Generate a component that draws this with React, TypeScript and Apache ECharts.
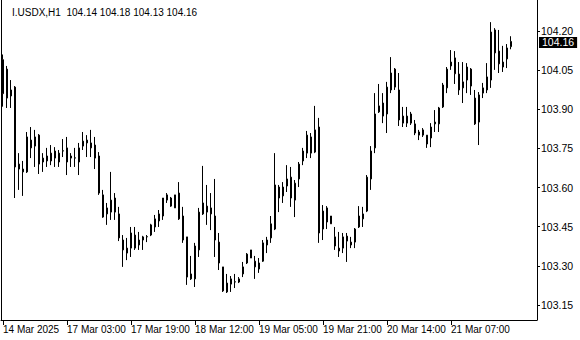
import React, { useEffect, useRef } from "react";
import * as echarts from "echarts";

const symbolName = "I.USDX,H1";
const tickLabels = [
  "14 Mar 2025",
  "17 Mar 03:00",
  "17 Mar 19:00",
  "18 Mar 12:00",
  "19 Mar 05:00",
  "19 Mar 21:00",
  "20 Mar 14:00",
  "21 Mar 07:00",
];
const yTicks = [103.15, 103.3, 103.45, 103.6, 103.75, 103.9, 104.05, 104.2];

const opens = [
  104.09, 104.054, 103.951, 103.985, 103.69, 103.66, 103.66, 103.782, 103.759, 103.801,
  103.698, 103.702, 103.732, 103.713, 103.698, 103.74, 103.752, 103.713, 103.713, 103.698,
  103.759, 103.771, 103.771, 103.763, 103.721, 103.572, 103.499, 103.506, 103.56, 103.499,
  103.399, 103.368, 103.368, 103.418, 103.38, 103.411, 103.411, 103.418, 103.449, 103.472,
  103.491, 103.552, 103.56, 103.522, 103.579, 103.491, 103.411, 103.25, 103.25, 103.361,
  103.499, 103.529, 103.522, 103.491, 103.391, 103.296, 103.2, 103.25, 103.238, 103.25,
  103.269, 103.311, 103.361, 103.318, 103.288, 103.318, 103.38, 103.407, 103.441, 103.602,
  103.568, 103.606, 103.64, 103.552, 103.633, 103.702, 103.732, 103.794, 103.736, 103.832,
  103.441, 103.522, 103.491, 103.411, 103.368, 103.368, 103.414, 103.391, 103.391, 103.449,
  103.48, 103.51, 103.633, 103.752, 103.89, 103.924, 103.882, 103.974, 104.054, 103.974,
  103.874, 103.847, 103.882, 103.844, 103.801, 103.821, 103.767, 103.79, 103.844, 103.844,
  103.909, 103.982, 104.066, 104.097, 104.035, 103.982, 104.012, 104.054, 103.943, 103.851,
  103.962, 103.974, 104.012, 104.204, 104.123, 104.062, 104.093, 104.14,
];
const highs = [
  104.11, 104.066, 104.012, 103.989, 103.732, 103.702, 103.813, 103.832, 103.821, 103.805,
  103.732, 103.752, 103.763, 103.755, 103.744, 103.786, 103.794, 103.732, 103.752, 103.771,
  103.813, 103.801, 103.821, 103.794, 103.736, 103.591, 103.541, 103.66, 103.579, 103.526,
  103.418, 103.407, 103.449, 103.449, 103.43, 103.415, 103.418, 103.461, 103.495, 103.514,
  103.56, 103.579, 103.564, 103.572, 103.621, 103.526, 103.411, 103.338, 103.388, 103.522,
  103.683, 103.61, 103.579, 103.633, 103.426, 103.296, 103.269, 103.261, 103.269, 103.257,
  103.315, 103.349, 103.361, 103.338, 103.33, 103.399, 103.411, 103.491, 103.732, 103.61,
  103.621, 103.686, 103.679, 103.629, 103.698, 103.752, 103.817, 103.809, 103.913, 103.867,
  103.533, 103.529, 103.491, 103.449, 103.43, 103.426, 103.426, 103.411, 103.445, 103.529,
  103.526, 103.648, 103.759, 103.962, 103.997, 103.962, 104.005, 104.1, 104.058, 104.039,
  103.909, 103.909, 103.89, 103.859, 103.821, 103.828, 103.801, 103.847, 103.897, 103.909,
  104.001, 104.062, 104.127, 104.123, 104.081, 104.081, 104.077, 104.058, 103.974, 103.966,
  104.001, 104.077, 104.234, 104.211, 104.204, 104.143, 104.15, 104.18,
];
const lows = [
  103.91, 103.905, 103.905, 103.56, 103.591, 103.568, 103.656, 103.713, 103.679, 103.652,
  103.66, 103.679, 103.686, 103.679, 103.679, 103.717, 103.648, 103.679, 103.679, 103.648,
  103.744, 103.717, 103.717, 103.671, 103.572, 103.484, 103.457, 103.476, 103.476, 103.395,
  103.296, 103.322, 103.334, 103.361, 103.361, 103.361, 103.391, 103.414, 103.43, 103.449,
  103.476, 103.541, 103.526, 103.522, 103.476, 103.388, 103.227, 103.246, 103.219, 103.334,
  103.495, 103.457, 103.437, 103.334, 103.284, 103.2, 103.196, 103.2, 103.215, 103.234,
  103.257, 103.307, 103.33, 103.25, 103.273, 103.315, 103.349, 103.388, 103.437, 103.506,
  103.541, 103.583, 103.526, 103.487, 103.602, 103.686, 103.713, 103.713, 103.732, 103.388,
  103.399, 103.441, 103.461, 103.361, 103.334, 103.349, 103.315, 103.368, 103.368, 103.445,
  103.449, 103.506, 103.591, 103.732, 103.886, 103.847, 103.809, 103.962, 103.974, 103.836,
  103.832, 103.832, 103.84, 103.801, 103.782, 103.794, 103.752, 103.755, 103.813, 103.813,
  103.905, 103.962, 104.051, 103.997, 103.955, 103.924, 103.962, 103.955, 103.84, 103.763,
  103.943, 103.962, 103.982, 104.051, 104.039, 104.043, 104.058, 104.13,
];
const closes = [
  103.96, 103.943, 103.974, 103.679, 103.671, 103.671, 103.794, 103.752, 103.794, 103.69,
  103.713, 103.721, 103.702, 103.74, 103.732, 103.741, 103.698, 103.721, 103.714, 103.752,
  103.778, 103.782, 103.752, 103.713, 103.579, 103.487, 103.522, 103.552, 103.506, 103.407,
  103.361, 103.349, 103.426, 103.368, 103.399, 103.399, 103.412, 103.457, 103.48, 103.499,
  103.56, 103.572, 103.529, 103.572, 103.48, 103.399, 103.257, 103.269, 103.376, 103.506,
  103.541, 103.506, 103.499, 103.399, 103.311, 103.204, 103.234, 103.23, 103.239, 103.238,
  103.296, 103.345, 103.33, 103.296, 103.311, 103.388, 103.399, 103.461, 103.61, 103.56,
  103.602, 103.633, 103.56, 103.617, 103.69, 103.74, 103.801, 103.732, 103.821, 103.426,
  103.51, 103.468, 103.461, 103.376, 103.357, 103.411, 103.395, 103.38, 103.441, 103.491,
  103.499, 103.64, 103.74, 103.882, 103.913, 103.874, 103.985, 104.039, 103.985, 103.859,
  103.847, 103.874, 103.847, 103.809, 103.813, 103.801, 103.801, 103.832, 103.851, 103.905,
  103.993, 104.054, 104.081, 104.036, 103.974, 104.005, 104.062, 103.989, 103.844, 103.955,
  103.982, 104.024, 104.196, 104.116, 104.074, 104.081, 104.135, 104.16,
];

const Y_MIN = 103.0925;
const Y_MAX = 104.3188;
const SHIFT_BARS = 6;
const TICK_EVERY = 16;
const FONT = "'Liberation Sans', Arial, sans-serif";

export default function App() {
  const ref = useRef<HTMLDivElement>(null);
  useEffect(() => {
    if (!ref.current) return;
    const chart = echarts.init(ref.current, null, { renderer: "svg" });
    const n = opens.length;
    const cats = Array.from({ length: n + SHIFT_BARS }, (_, i) => String(i));
    const data = opens.map((o, i) => [o, closes[i], lows[i], highs[i]]);
    const last = n - 1;
    const header = `${symbolName}  ${opens[last].toFixed(2)} ${highs[last].toFixed(2)} ${lows[last].toFixed(2)} ${closes[last].toFixed(2)}`;
    const showTick = (i: number) => i % TICK_EVERY === 0 && i / TICK_EVERY < tickLabels.length;
    chart.setOption({
      animation: false,
      backgroundColor: "#ffffff",
      textStyle: { fontFamily: FONT },
      title: {
        text: header,
        left: 7,
        top: 2,
        textStyle: { fontSize: 10, fontWeight: "normal", color: "#000", fontFamily: FONT },
      },
      grid: { left: 1, width: 536, top: 0, height: 320 },
      xAxis: {
        type: "category",
        data: cats,
        boundaryGap: true,
        axisLine: { show: true, lineStyle: { color: "#000", width: 1 } },
        axisTick: {
          show: true,
          alignWithLabel: true,
          interval: (i: number) => showTick(i),
          length: 5,
          lineStyle: { color: "#000" },
        },
        axisLabel: {
          interval: (i: number) => showTick(i),
          formatter: (_v: string, i: number) => tickLabels[i / TICK_EVERY] ?? "",
          align: "left",
          margin: 4,
          color: "#000",
          fontSize: 10,
          fontFamily: FONT,
        },
        splitLine: { show: false },
      },
      yAxis: [
        {
          type: "value",
          position: "right",
          min: Y_MIN,
          max: Y_MAX,
          axisLine: { show: true, lineStyle: { color: "#000" } },
          axisTick: { show: true, customValues: yTicks, length: 3, lineStyle: { color: "#000" } },
          axisLabel: {
            customValues: yTicks,
            formatter: (v: number) => v.toFixed(2),
            margin: 4,
            color: "#000",
            fontSize: 10.5,
            lineHeight: 10,
            fontFamily: FONT,
          },
          splitLine: { show: false },
        },
        {
          type: "value",
          position: "left",
          min: Y_MIN,
          max: Y_MAX,
          axisLine: { show: true, lineStyle: { color: "#000" } },
          axisTick: { show: false },
          axisLabel: { show: false },
          splitLine: { show: false },
        },
      ],
      series: [
        {
          type: "candlestick",
          data,
          barWidth: 2,
          itemStyle: {
            color: "#32cd32",
            color0: "#ff0000",
            borderColor: "#000",
            borderColor0: "#000",
            borderColorDoji: "#000",
            borderWidth: 1,
          },
          markLine: {
            silent: true,
            symbol: "none",
            data: [{ yAxis: closes[last] }],
            lineStyle: { color: "rgba(0,0,0,0)", width: 1, type: "solid" },
            label: {
              show: true,
              position: "end",
              formatter: closes[last].toFixed(2),
              backgroundColor: "#000",
              color: "#fff",
              padding: [0, 3, 0, 3],
              lineHeight: 11,
              offset: [0, 1],
              distance: 2,
              fontSize: 10.5,
              fontFamily: FONT,
            },
          },
        },
      ],
    });
    return () => chart.dispose();
  }, []);
  return <div ref={ref} style={{ position: "fixed", left: 0, top: 0, width: 580, height: 340 }} />;
}
